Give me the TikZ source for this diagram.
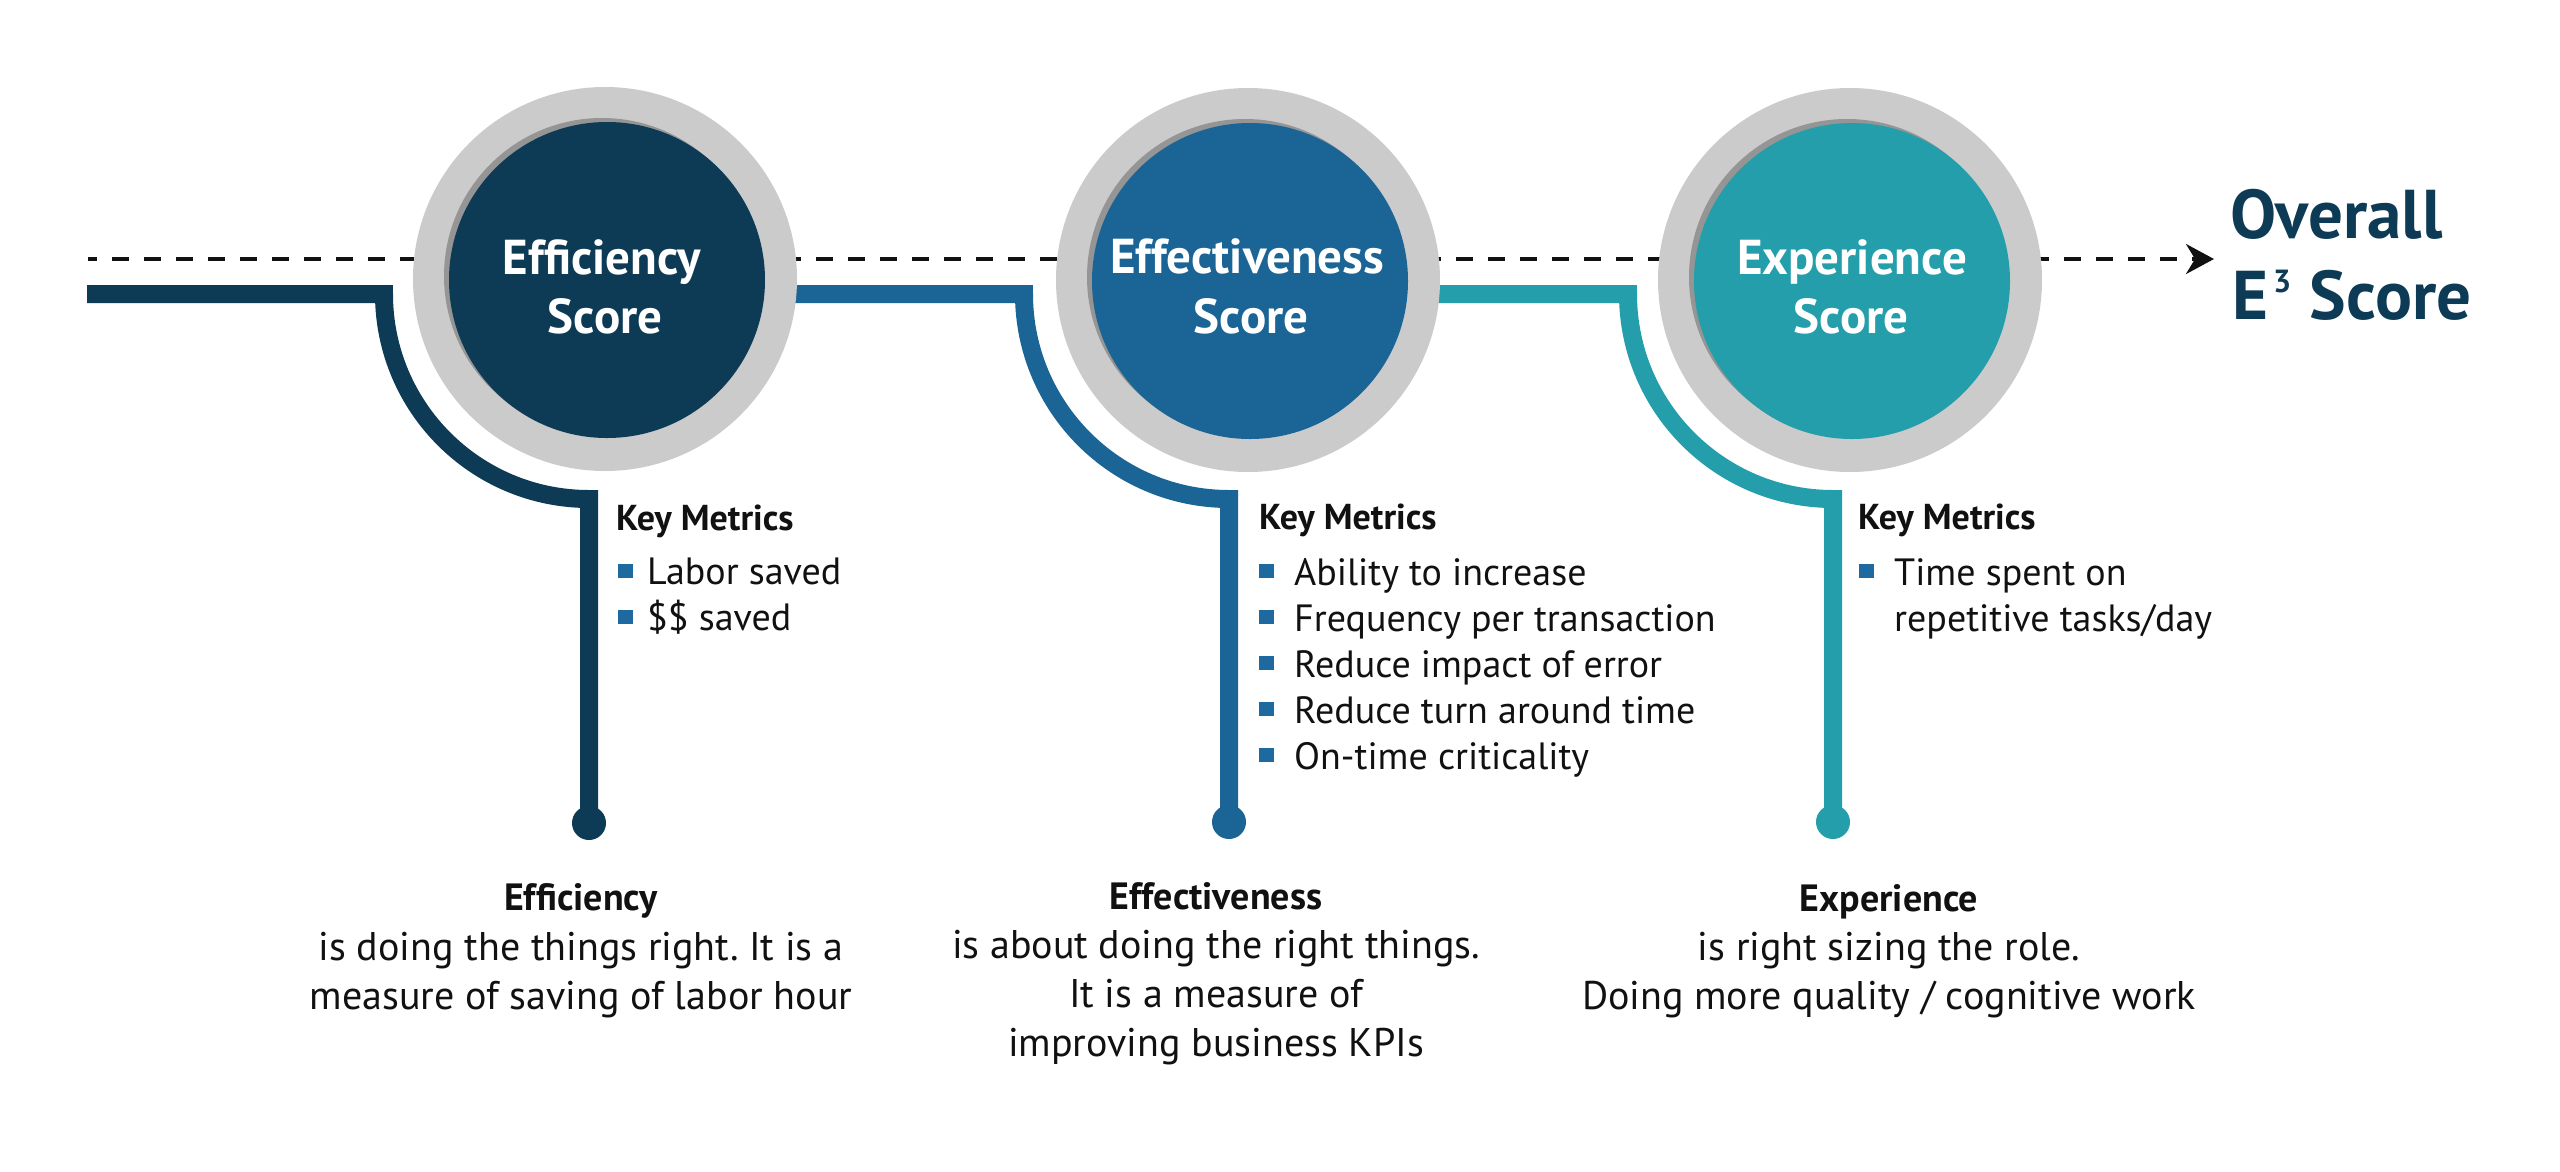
\documentclass[tikz,border=0pt]{standalone}
\usepackage{fontspec}
\setmainfont{PT Sans}
\frenchspacing
\usetikzlibrary{arrows.meta,calc}
\pgfdeclarelayer{bg}
\pgfsetlayers{bg,main}
\definecolor{navy}{HTML}{0D3B55}
\definecolor{midblue}{HTML}{1B6496}
\definecolor{teal2}{HTML}{239EAA}
\definecolor{ring}{HTML}{CBCBCB}
\definecolor{shade}{HTML}{959595}
\definecolor{bulletblue}{HTML}{1E6AA0}
\definecolor{ink}{HTML}{111111}
\begin{document}
\begin{tikzpicture}[x=1pt,y=-1pt,
  ringc/.style={circle, fill=ring, minimum size=384pt, inner sep=0pt},
  shadowc/.style={circle, fill=shade, minimum size=316pt, inner sep=0pt},
  corec/.style={circle, minimum size=316pt, inner sep=0pt},
  bar/.style={line width=18pt, line join=miter, line cap=butt},
  dotc/.style={circle, minimum size=34pt, inner sep=0pt},
  sctext/.style={text=white, font=\fontsize{49}{59}\selectfont\bfseries, inner sep=0pt, anchor=base},
  kmtitle/.style={font=\fontsize{36}{46}\selectfont\bfseries, text=ink, inner sep=0pt, anchor=base west},
  kmitem/.style={font=\fontsize{38}{46}\selectfont, text=ink, inner sep=0pt, anchor=base west},
  bsq/.style={fill=bulletblue, minimum size=14.5pt, inner sep=0pt},
  deshead/.style={font=\fontsize{38}{49}\selectfont\bfseries, text=ink, inner sep=0pt, anchor=base},
  destext/.style={font=\fontsize{40}{49}\selectfont, text=ink, inner sep=0pt, anchor=base},
  overall/.style={font=\fontsize{69}{81}\selectfont\bfseries, text=navy, inner sep=0pt, anchor=base west},
  dashline/.style={draw=ink, line width=3.5pt, dash pattern=on 17pt off 15pt, dash phase=8pt,
    -{Stealth[length=28pt,width=30pt,inset=9pt]}},
]
\useasboundingbox (0,0) rectangle (2560,1171);

% circles
\node[ringc] (c1) at (605,279) {};
\node[ringc] (c2) at (1248,280) {};
\node[ringc] (c3) at (1850,280) {};
\node[shadowc] (sh1) at (602,276) {};
\node[shadowc] (sh2) at (1245,277) {};
\node[shadowc] (sh3) at (1847,277) {};
\node[corec, fill=navy] (i1) at (607,280) {};
\node[corec, fill=midblue] (i2) at (1250,281) {};
\node[corec, fill=teal2] (i3) at (1852,281) {};

\node[sctext] (t1a) at (602,274) {Efficiency};
\node[sctext] (t1b) at (605,333) {Score};
\node[sctext] (t2a) at (1247,273) {Effectiveness};
\node[sctext] (t2b) at (1251,333) {Score};
\node[sctext] (t3a) at (1852,274) {Experience};
\node[sctext] (t3b) at (1851,333) {Score};

% end dots
\node[dotc, fill=navy] (d1) at (589,823) {};
\node[dotc, fill=midblue] (d2) at (1229,822) {};
\node[dotc, fill=teal2] (d3) at (1833,822) {};

% overall
\node[overall] (ov1) at (2230,238) {Overall};
\node[overall] (ov2) at (2232,319) {E\hspace{5pt}\raisebox{27pt}{\fontsize{32}{32}\selectfont 3}\hspace{1pt} Score};

\coordinate (s1) at (87,294);
\coordinate (dstart) at (88,259);
\coordinate (atip) at (2214,259);

\begin{pgfonlayer}{bg}
\fill[white] (0,0) rectangle (2560,1171);
\draw[dashline] (dstart) -- (atip);
\draw[bar, navy] (s1) -- ($(d1.center |- s1)+(-205,0)$) arc (180:90:205) -- (d1.center);
\draw[bar, midblue] (c1.center |- s1) -- ($(d2.center |- s1)+(-205,0)$) arc (180:90:205) -- (d2.center);
\draw[bar, teal2] (c2.center |- s1) -- ($(d3.center |- s1)+(-205,0)$) arc (180:90:205) -- (d3.center);
\end{pgfonlayer}

% key metrics 1
\node[kmtitle] (k1) at (616,530) {Key Metrics};
\node[bsq] (b11) at (625.5,571) {};
\node[bsq] (b12) at (625.5,617) {};
\node[kmitem] (m11) at (647,584) {Labor saved};
\node[kmitem] (m12) at (647,630) {\$\$ saved};

% key metrics 2
\node[kmtitle] (k2) at (1259,529) {Key Metrics};
\node[bsq] (b21) at (1266.5,571) {};
\node[bsq] (b22) at (1266.5,617) {};
\node[bsq] (b23) at (1266.5,663) {};
\node[bsq] (b24) at (1266.5,709) {};
\node[bsq] (b25) at (1266.5,755) {};
\node[kmitem] (m21) at (1294,585) {Ability to increase};
\node[kmitem] (m22) at (1294,631) {Frequency per transaction};
\node[kmitem] (m23) at (1294,677) {Reduce impact of error};
\node[kmitem] (m24) at (1294,723) {Reduce turn around time};
\node[kmitem] (m25) at (1294,769) {On-time criticality};

% key metrics 3
\node[kmtitle] (k3) at (1858,529) {Key Metrics};
\node[bsq] (b31) at (1866.5,571) {};
\node[kmitem] (m31) at (1894,585) {Time spent on};
\node[kmitem] (m32) at (1894,631) {repetitive tasks/day};

% descriptions
\node[deshead] (e1) at (581,910) {Efficiency};
\node[destext] (e1a) at (581,960) {is doing the things right. It is a};
\node[destext] (e1b) at (581,1009) {measure of saving of labor hour};

\node[deshead] (e2) at (1216,909) {Effectiveness};
\node[destext] (e2a) at (1216,958) {is about doing the right things.};
\node[destext] (e2b) at (1216,1007) {It is a measure of};
\node[destext] (e2c) at (1216,1056) {improving business KPIs};

\node[deshead] (e3) at (1889,911) {Experience};
\node[destext] (e3a) at (1889,960) {is right sizing the role.};
\node[destext] (e3b) at (1889,1009) {Doing more quality / cognitive work};
\end{tikzpicture}
\end{document}
